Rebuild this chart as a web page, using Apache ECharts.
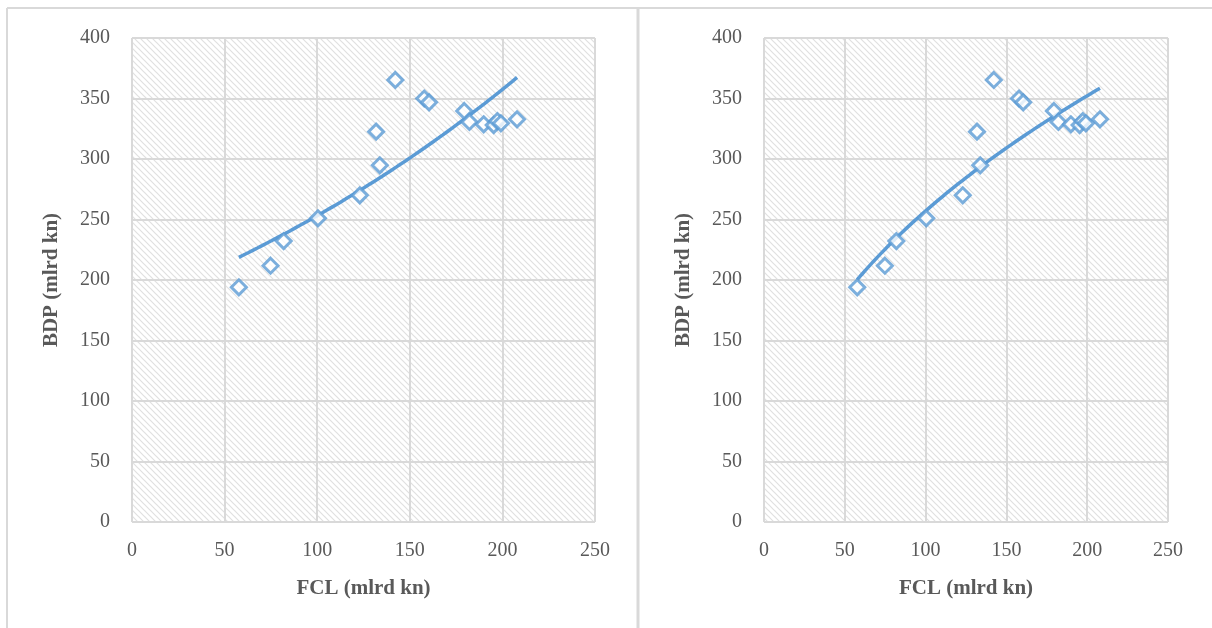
<!DOCTYPE html>
<html>
<head>
<meta charset="utf-8">
<script src="https://cdn.jsdelivr.net/npm/echarts@6/dist/echarts.min.js"></script>
<style>
  html, body { margin: 0; padding: 0; background: #fff; }
  #myChart { width: 1212px; height: 628px; }
</style>
</head>
<body>
<div id="myChart"></div>
<script>
  // podaci (mlrd kn)
  let fcl = [57.7, 74.8, 81.9, 100.4, 123, 131.8, 133.8, 142.2, 157.8, 160.4, 179.4, 182.2, 189.9, 195.3, 197.3, 199.2, 207.9];
  let bdp = [194, 211.8, 232.2, 251, 270, 322.6, 294.8, 365.3, 350, 346.8, 339.7, 330.6, 328.7, 328, 331.4, 329.5, 332.8];
  let xTicks = [0, 50, 100, 150, 200, 250];
  let yTicks = [0, 50, 100, 150, 200, 250, 300, 350, 400];

  let blue = '#5B9BD5';
  let grey = '#595959';
  let font = '"Liberation Serif", "Times New Roman", serif';

  // trend linija (najmanji kvadrati na log skali)
  function fit(fx) {
    let n = fcl.length, sx = 0, sy = 0, sxx = 0, sxy = 0;
    for (let i = 0; i < n; i++) {
      let u = fx(fcl[i]), v = Math.log(bdp[i]);
      sx += u; sy += v; sxx += u * u; sxy += u * v;
    }
    let b = (n * sxy - sx * sy) / (n * sxx - sx * sx);
    let a = (sy - b * sx) / n;
    return {a: a, b: b};
  }
  function trend(type) {
    let fx = type === 'exp' ? (x => x) : (x => Math.log(x));
    let c = fit(fx);
    let x0 = Math.min.apply(null, fcl), x1 = Math.max.apply(null, fcl);
    let pts = [];
    for (let k = 0; k <= 60; k++) {
      let x = x0 + (x1 - x0) * k / 60;
      pts.push([x, Math.exp(c.a + c.b * fx(x))]);
    }
    return pts;
  }

  // srafura pozadine
  let tile = document.createElement('canvas');
  tile.width = 6; tile.height = 6;
  let g = tile.getContext('2d');
  g.fillStyle = '#ffffff';
  g.fillRect(0, 0, 6, 6);
  g.strokeStyle = '#e0e0e0';
  g.lineWidth = 1.2;
  g.beginPath();
  g.moveTo(-1, -1); g.lineTo(7, 7);
  g.moveTo(-1, 5); g.lineTo(1, 7);
  g.moveTo(5, -1); g.lineTo(7, 1);
  g.stroke();

  let points = fcl.map((x, i) => [x, bdp[i]]);

  function xAxis(idx) {
    return {
      gridIndex: idx, type: 'value', min: 0, max: 250, interval: 50,
      name: 'FCL (mlrd kn)', nameLocation: 'middle', nameGap: 56,
      nameTextStyle: {color: grey, fontFamily: font, fontSize: 21, fontWeight: 'bold'},
      axisLine: {show: false}, axisTick: {show: false},
      axisLabel: {color: grey, fontFamily: font, fontSize: 20, margin: 19,
        formatter: v => xTicks.indexOf(v) >= 0 ? String(v) : ''},
      splitLine: {show: true, lineStyle: {color: '#d9d9d9', width: 2}}
    };
  }
  function yAxis(idx) {
    return {
      gridIndex: idx, type: 'value', min: 0, max: 400, interval: 50,
      name: 'BDP (mlrd kn)', nameLocation: 'middle', nameGap: 70,
      nameTextStyle: {color: grey, fontFamily: font, fontSize: 21, fontWeight: 'bold'},
      axisLine: {show: false}, axisTick: {show: false},
      axisLabel: {color: grey, fontFamily: font, fontSize: 20, margin: 22,
        formatter: v => yTicks.indexOf(v) >= 0 ? String(v) : ''},
      splitLine: {show: true, lineStyle: {color: '#d9d9d9', width: 2}}
    };
  }
  function scatter(idx) {
    return {
      type: 'scatter', xAxisIndex: idx, yAxisIndex: idx, data: points,
      symbol: 'diamond', symbolSize: 15, z: 3,
      itemStyle: {color: '#ffffff', borderColor: blue, borderWidth: 3}
    };
  }
  function line(idx, type) {
    return {
      type: 'line', xAxisIndex: idx, yAxisIndex: idx, data: trend(type),
      showSymbol: false, smooth: false, z: 2,
      lineStyle: {color: blue, width: 3.5}
    };
  }

  let myChart = echarts.init(document.getElementById('myChart'));
  myChart.setOption({
    animation: false,
    backgroundColor: '#ffffff',
    grid: [
      {left: 132, top: 38, width: 463, height: 484, show: true, borderWidth: 0,
        backgroundColor: {image: tile, repeat: 'repeat'}},
      {left: 764, top: 38, width: 404, height: 484, show: true, borderWidth: 0,
        backgroundColor: {image: tile, repeat: 'repeat'}}
    ],
    xAxis: [xAxis(0), xAxis(1)],
    yAxis: [yAxis(0), yAxis(1)],
    series: [line(0, 'exp'), scatter(0), line(1, 'pow'), scatter(1)],
    graphic: [
      {type: 'line', shape: {x1: 7, y1: 8, x2: 1212, y2: 8}, style: {stroke: '#d9d9d9', lineWidth: 2}},
      {type: 'line', shape: {x1: 7, y1: 8, x2: 7, y2: 628}, style: {stroke: '#d9d9d9', lineWidth: 2}},
      {type: 'line', shape: {x1: 638, y1: 8, x2: 638, y2: 628}, style: {stroke: '#d9d9d9', lineWidth: 3}}
    ]
  });
</script>
</body>
</html>
